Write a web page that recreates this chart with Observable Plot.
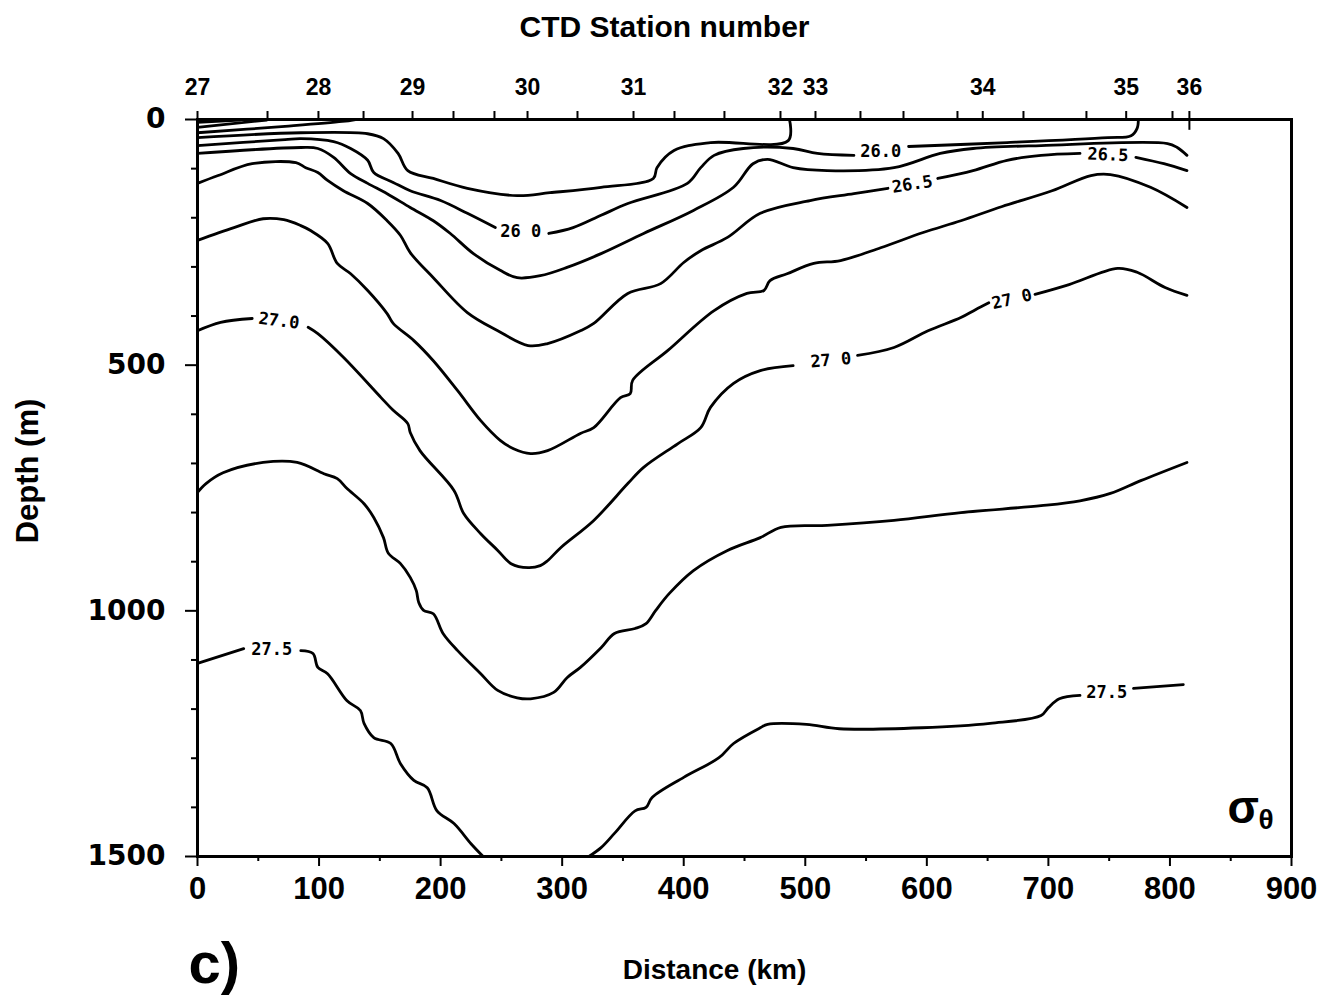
<!DOCTYPE html>
<html>
<head>
<meta charset="utf-8">
<script src="https://cdn.jsdelivr.net/npm/d3@7"></script>
<script src="https://cdn.jsdelivr.net/npm/@observablehq/plot@0.6"></script>
<style>
  body { margin: 0; background: #fff; }
</style>
</head>
<body>
<div id="chart"></div>
<script>
// ---- Data: sigma-theta isopycnals as [distance (km), depth (m)]; null = gap for a contour label ----
const s2500 = [[0,6],[35,1]];
const s2525 = [[0,16],[57,1]];
const s2550 = [[0,27],[72,14],[119,4],[130,0]];
const s2575 = [[0,37],[85,27],[140,29],[153,39],[165,69],[173,104],[194,120],[222,140],[263,155],[290,149],[332,138],[375,120],[378,98],[392,63],[422,47],[486,43],[487,0]];
const s2600 = [[0,53],[72,41],[85,39],[112,45],[126,59],[140,83],[145,108],[161,128],[175,145],[200,165],[222,191],[245,220],null,[289,232],[309,220],[332,195],[354,171],[403,130],[414,98],[425,73],[449,59],[490,59],[510,69],[540,73],null,[585,55],[666,47],[749,37],[768,33],[773,18],[774,0]];
const s2625 = [[0,69],[85,57],[99,59],[112,77],[126,110],[140,130],[156,151],[175,179],[194,206],[208,232],[227,273],[249,307],[263,322],[282,318],[304,301],[332,273],[367,232],[408,185],[441,138],[457,90],[469,81],[490,98],[518,104],[573,98],[611,69],[638,59],[694,53],[798,49],[806,57],[814,73]];
const s2650 = [[0,130],[17,114],[45,90],[81,88],[89,98],[99,108],[107,124],[120,145],[140,171],[156,206],[167,236],[175,271],[194,322],[222,393],[247,430],[272,460],[288,456],[315,430],[326,415],[354,354],[381,334],[400,291],[414,267],[436,240],[463,191],[504,165],[540,151],[568,140],null,[609,120],[638,104],[666,83],[694,73],[726,69],null,[772,77],[795,90],[814,104]];
const s2675 = [[0,246],[30,220],[54,202],[71,204],[85,216],[93,226],[107,252],[115,293],[126,314],[140,348],[156,395],[161,415],[178,450],[194,491],[214,552],[233,613],[249,653],[260,670],[274,680],[288,674],[315,639],[326,627],[348,566],[356,558],[358,531],[387,470],[425,389],[452,354],[466,348],[471,328],[485,314],[507,293],[529,287],[562,261],[597,230],[628,206],[662,177],[703,145],[735,114],[751,112],[784,138],[814,179]];
const s2700 = [[0,430],[19,413],[45,405],null,[91,423],[99,436],[120,484],[151,566],[161,592],[173,619],[175,637],[183,674],[211,755],[219,802],[233,843],[247,877],[258,904],[272,912],[282,908],[288,898],[299,871],[326,816],[354,741],[367,708],[395,660],[414,627],[422,586],[441,537],[463,511],[490,501],null,[543,480],[573,464],[601,430],[628,403],[640,387],[651,373],null,[689,356],[717,336],[757,303],[773,311],[796,342],[814,358]];
const s2725 = [[0,759],[7,741],[21,719],[54,698],[82,698],[104,721],[115,731],[123,751],[137,782],[145,810],[153,851],[157,883],[167,904],[175,932],[180,959],[182,983],[186,999],[194,1006],[202,1046],[214,1081],[233,1128],[247,1162],[263,1177],[274,1179],[293,1166],[304,1136],[315,1115],[332,1075],[343,1046],[360,1036],[369,1026],[377,999],[388,965],[408,918],[436,877],[463,851],[480,830],[518,826],[573,816],[628,800],[694,786],[726,776],[751,761],[776,735],[814,698]];
const s2750west = [[0,1107],[38,1077],null,[85,1081],[95,1087],[99,1115],[107,1128],[123,1183],[134,1203],[137,1229],[145,1258],[159,1270],[167,1311],[178,1345],[189,1360],[197,1407],[211,1433],[225,1474],[235,1500]];
const s2750east = [[322,1500],[332,1482],[343,1453],[360,1407],[369,1400],[374,1380],[400,1339],[429,1299],[441,1270],[463,1238],[469,1231],[501,1231],[528,1240],[596,1238],[652,1229],[694,1213],[700,1197],[709,1179],[726,1172],null,[770,1158],[811,1150]];

// Contour labels: text, distance, depth, rotation
const labelText = ["26 0","26.0","26.5","26.5","27.0","27 0","27 0","27.5","27.5"];
const labelKm   = [266, 562, 588, 749, 67, 521, 670, 61, 748];
const labelDepth= [228, 66, 132, 72, 410, 490, 366, 1078, 1166];
const labelAngle= [0, 0, -9, 2, 7, -5, -13, 0, 0];

// Top axis: CTD stations
const stationNumbers = ["27","28","29","30","31","32","33","34","35","36"];
const stationKm = [0, 99.5, 176.9, 271.5, 358.7, 479.6, 508.4, 646, 764, 816];
const extraStationKm = [57.6, 136.6, 210.6, 244.3, 312.6, 392.4, 433.5, 545.4, 580.8, 625.2, 679.5, 731.3, 802.1];

// Axis ticks
const xMajor = [0,100,200,300,400,500,600,700,800,900];
const xMinor = [50,150,250,350,450,550,650,750,850];
const yMajor = [0,500,1000,1500];
const yMinor = [100,200,300,400,600,700,800,900,1100,1200,1300,1400];

// ---- Build tables ----
const contours = [["25.00",s2500],["25.25",s2525],["25.50",s2550],["25.75",s2575],["26.00",s2600],["26.25",s2625],["26.50",s2650],["26.75",s2675],["27.00",s2700],["27.25",s2725],["27.50w",s2750west],["27.50e",s2750east]];
const rows = contours.flatMap(([id, pts]) => pts.map(p => p ? {id, d: p[0], z: p[1]} : {id, d: NaN, z: NaN}));
const labels = labelText.map((t, i) => ({t, d: labelKm[i], z: labelDepth[i], r: labelAngle[i]}));
const stationLabel = new Map(stationKm.map((k, i) => [k, stationNumbers[i]]));

const bold = "bold";
const svg = Plot.plot({
  width: 1328,
  height: 1000,
  marginLeft: 197,
  marginRight: 37,
  marginTop: 119,
  marginBottom: 144,
  style: {background: "white", color: "black", fontFamily: "'Liberation Sans', Arial, sans-serif", overflow: "visible"},
  x: {domain: [0, 900]},
  y: {domain: [0, 1500], reverse: true},
  marks: [
    Plot.line(rows, {x: "d", y: "z", z: "id", stroke: "black", strokeWidth: 2.8, curve: "catmull-rom", strokeLinejoin: "round", strokeLinecap: "round"}),
    Plot.text(labels, {x: "d", y: "z", text: "t", rotate: "r", fontFamily: "'DejaVu Sans Mono', monospace", fontWeight: bold, fontSize: 17}),
    Plot.frame({stroke: "black", strokeWidth: 3}),
    // bottom axis
    Plot.axisX({anchor: "bottom", ticks: xMajor, tickSize: 10, tickPadding: 10, strokeWidth: 2, tickFormat: d => String(d), fontSize: 31, fontWeight: bold, label: null}),
    Plot.axisX({anchor: "bottom", ticks: xMinor, tickSize: 5, strokeWidth: 2, tickFormat: () => "", label: null}),
    // left axis
    Plot.axisY({anchor: "left", ticks: yMajor, tickSize: 12, tickPadding: 20, strokeWidth: 2, tickFormat: d => String(d), fontSize: 28, fontWeight: bold, fontFamily: "'DejaVu Sans', sans-serif", label: null}),
    Plot.axisY({anchor: "left", ticks: yMinor, tickSize: 6, strokeWidth: 2, tickFormat: () => "", label: null}),
    // top axis: CTD stations
    Plot.axisX({anchor: "top", ticks: stationKm, tickSize: 9, tickPadding: 16, strokeWidth: 2, tickFormat: d => stationLabel.get(d), fontSize: 23, fontWeight: bold, label: null}),
    Plot.axisX({anchor: "top", ticks: extraStationKm, tickSize: 9, strokeWidth: 2, tickFormat: () => "", label: null}),
    Plot.ruleX([816], {y1: 0, y2: 22, stroke: "black", strokeWidth: 2}),
    // titles
    Plot.text(["CTD Station number"], {text: d => d, frameAnchor: "top", dx: -80, dy: -92, textAnchor: "middle", lineAnchor: "middle", fontSize: 30, fontWeight: bold}),
    Plot.text(["Depth (m)"], {text: d => d, frameAnchor: "left", dx: -169, dy: -17, rotate: -90, textAnchor: "middle", lineAnchor: "middle", fontSize: 31, fontWeight: bold}),
    Plot.text(["Distance (km)"], {text: d => d, frameAnchor: "bottom", dx: -30, dy: 114, textAnchor: "middle", lineAnchor: "middle", fontSize: 28, fontWeight: bold}),
    Plot.text(["c)"], {text: d => d, frameAnchor: "bottom-left", dx: -9, dy: 108, textAnchor: "start", lineAnchor: "middle", fontSize: 58, fontWeight: bold}),
    Plot.text(["σ"], {text: d => d, frameAnchor: "bottom-right", dx: -64, dy: -48, textAnchor: "start", lineAnchor: "middle", fontSize: 46, fontWeight: bold}),
    Plot.text(["θ"], {text: d => d, frameAnchor: "bottom-right", dx: -33, dy: -36, textAnchor: "start", lineAnchor: "middle", fontSize: 28, fontWeight: bold})
  ]
});
document.getElementById("chart").appendChild(svg);
</script>
</body>
</html>
